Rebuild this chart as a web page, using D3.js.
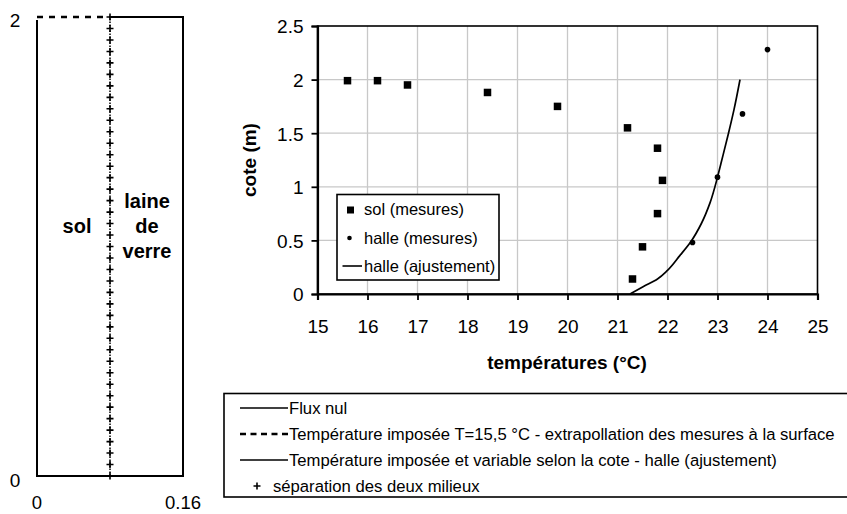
<!DOCTYPE html>
<html><head><meta charset="utf-8">
<script src="https://cdn.jsdelivr.net/npm/d3@7"></script>
<style>body{margin:0;background:#fff}svg{display:block;font-family:Arial,"Liberation Sans",sans-serif}</style>
</head><body><svg id="c" width="847" height="514"></svg>
<script>
// ---- data ----
const solT = [15.6, 16.2, 16.8, 18.4, 19.8, 21.2, 21.8, 21.9, 21.8, 21.5, 21.3];
const solZ = [1.99, 1.99, 1.95, 1.88, 1.75, 1.55, 1.36, 1.06, 0.75, 0.44, 0.14];
const halleT = [24.0, 23.5, 23.0, 22.5];
const halleZ = [2.28, 1.68, 1.09, 0.48];
const fitT = [21.25, 21.52, 21.80, 22.00, 22.25, 22.47, 22.68, 22.85, 23.00, 23.07, 23.22, 23.33, 23.45];
const fitZ = [0, 0.07, 0.14, 0.22, 0.36, 0.49, 0.66, 0.85, 1.09, 1.22, 1.50, 1.72, 2.0];
const xTicks = [15, 16, 17, 18, 19, 20, 21, 22, 23, 24, 25];
const yTicks = [0, 0.5, 1, 1.5, 2, 2.5];
const inLegend = ["sol (mesures)", "halle (mesures)", "halle (ajustement)"];
const bottomLegend = ["Flux nul", "Température imposée T=15,5 °C - extrapollation des mesures à la surface",
  "Température imposée et variable selon la cote - halle (ajustement)", "séparation des deux milieux"];
const domainX = [0, 0.16];
const domainZ = [0, 2];
const separationX = 0.08;
const sepZ = d3.range(0, 41).map(i => i * 0.05);

const svg = d3.select("#c");
const FONT = "Arial, 'Liberation Sans', sans-serif";

// ---- left diagram ----
const lx = d3.scaleLinear().domain(domainX).range([37, 183]);
const lz = d3.scaleLinear().domain(domainZ).range([476, 17]);
const L = svg.append("g");
L.append("path").attr("fill", "none").attr("stroke", "#000").attr("stroke-width", 2)
  .attr("d", d3.line()([[lx(0), lz(2) + 3], [lx(0), lz(0)], [lx(0.16), lz(0)], [lx(0.16), lz(2)], [lx(separationX), lz(2)]]));
L.append("line").attr("x1", lx(0)).attr("x2", lx(separationX)).attr("y1", lz(2)).attr("y2", lz(2))
  .attr("stroke", "#000").attr("stroke-width", 2.5).attr("stroke-dasharray", "6,6");
L.append("line").attr("x1", lx(separationX)).attr("x2", lx(separationX)).attr("y1", lz(0)).attr("y2", lz(2))
  .attr("stroke", "#000").attr("stroke-width", 1.5).attr("stroke-dasharray", "1.5,1.5");
L.selectAll("path.plus").data(sepZ).join("path").attr("class", "plus")
  .attr("d", d => `M${lx(separationX)-3.5},${lz(d)}h7M${lx(separationX)},${lz(d)-3.5}v7`)
  .attr("stroke", "#000").attr("stroke-width", 1.6);
L.append("text").attr("x", 15).attr("y", lz(2) + 10).attr("font-size", 19).attr("text-anchor", "middle").text("2");
L.append("text").attr("x", 15).attr("y", lz(0) + 11).attr("font-size", 19).attr("text-anchor", "middle").text("0");
L.append("text").attr("x", lx(0)).attr("y", 509).attr("font-size", 18.5).attr("text-anchor", "middle").text("0");
L.append("text").attr("x", lx(0.16)).attr("y", 509).attr("font-size", 18.5).attr("text-anchor", "middle").text("0.16");
L.append("text").attr("x", 77).attr("y", 233).attr("font-size", 20).attr("font-weight", "bold").attr("text-anchor", "middle").text("sol");
[["laine", 208], ["de", 233], ["verre", 258]].forEach(([t, y]) =>
  L.append("text").attr("x", 147).attr("y", y).attr("font-size", 20).attr("font-weight", "bold").attr("text-anchor", "middle").text(t));

// ---- chart ----
const x = d3.scaleLinear().domain([15, 25]).range([317.5, 817.5]);
const y = d3.scaleLinear().domain([0, 2.5]).range([294, 26]);
const G = svg.append("g");
G.selectAll("line.gx").data(xTicks.slice(1, -1)).join("line").attr("class", "gx")
  .attr("x1", d => x(d)).attr("x2", d => x(d)).attr("y1", y(0)).attr("y2", y(2.5))
  .attr("stroke", "#c8c8c8").attr("stroke-width", 1.3);
G.selectAll("line.gy").data(yTicks.slice(1, -1)).join("line").attr("class", "gy")
  .attr("x1", x(15)).attr("x2", x(25)).attr("y1", d => y(d)).attr("y2", d => y(d))
  .attr("stroke", "#c8c8c8").attr("stroke-width", 1.3);
G.append("rect").attr("x", x(15)).attr("y", y(2.5)).attr("width", x(25) - x(15)).attr("height", y(0) - y(2.5))
  .attr("fill", "none").attr("stroke", "#000").attr("stroke-width", 1.6);

const xAxis = G.append("g").attr("transform", `translate(0,${y(0)})`)
  .call(d3.axisBottom(x).tickValues(xTicks).tickSize(6).tickPadding(19.5).tickFormat(d3.format("d")));
const yAxis = G.append("g").attr("transform", `translate(${x(15)},0)`)
  .call(d3.axisLeft(y).tickValues(yTicks).tickSize(6).tickPadding(8).tickFormat(d => String(d)));
[xAxis, yAxis].forEach(a => {
  a.attr("font-size", 19).attr("font-family", FONT);
  a.select(".domain").attr("stroke", "#000").attr("stroke-width", 2.2);
  a.selectAll(".tick line").attr("stroke", "#000").attr("stroke-width", 1.8);
  a.selectAll("text").attr("fill", "#000");
});
xAxis.selectAll("text").attr("dy", "0.71em");
yAxis.selectAll("text").attr("dy", "0.36em");

G.append("text").attr("x", 567).attr("y", 369).attr("font-size", 19).attr("font-weight", "bold")
  .attr("text-anchor", "middle").text("températures (°C)");
G.append("text").attr("transform", "translate(256,160) rotate(-90)").attr("font-size", 19).attr("font-weight", "bold")
  .attr("text-anchor", "middle").text("cote (m)");

// fit line
G.append("path").datum(fitT.map((t, i) => [t, fitZ[i]])).attr("fill", "none").attr("stroke", "#000").attr("stroke-width", 1.7)
  .attr("d", d3.line().x(d => x(d[0])).y(d => y(d[1])).curve(d3.curveMonotoneY));
// sol squares
G.selectAll("rect.sol").data(solT.map((t, i) => [t, solZ[i]])).join("rect").attr("class", "sol")
  .attr("x", d => x(d[0]) - 3.75).attr("y", d => y(d[1]) - 3.75).attr("width", 7.5).attr("height", 7.5).attr("fill", "#000");
// halle circles
G.selectAll("circle.halle").data(halleT.map((t, i) => [t, halleZ[i]])).join("circle").attr("class", "halle")
  .attr("cx", d => x(d[0])).attr("cy", d => y(d[1])).attr("r", 2.8).attr("fill", "#000");

// inner legend
const lg = G.append("g");
lg.append("rect").attr("x", 337).attr("y", 194.5).attr("width", 162).attr("height", 85.5)
  .attr("fill", "#fff").attr("stroke", "#000").attr("stroke-width", 1.6);
lg.append("rect").attr("x", 347).attr("y", 206.5).attr("width", 7).attr("height", 7).attr("fill", "#000");
lg.append("circle").attr("cx", 349.5).attr("cy", 238).attr("r", 2.3).attr("fill", "#000");
lg.append("line").attr("x1", 342.5).attr("x2", 362).attr("y1", 266).attr("y2", 266).attr("stroke", "#000").attr("stroke-width", 1.6);
const lyBase = [215, 244, 272];
lg.selectAll("text").data(inLegend).join("text").attr("x", 364).attr("y", (d, i) => lyBase[i])
  .attr("font-size", 16.5).text(d => d);

// bottom legend
const B = svg.append("g");
B.append("rect").attr("x", 224).attr("y", 393.5).attr("width", 640).attr("height", 103.5)
  .attr("fill", "#fff").attr("stroke", "#000").attr("stroke-width", 1.6);
const by = [408, 434, 460, 486];
B.append("line").attr("x1", 240).attr("x2", 288).attr("y1", by[0]).attr("y2", by[0]).attr("stroke", "#000").attr("stroke-width", 1.6);
B.append("line").attr("x1", 240).attr("x2", 288).attr("y1", by[1]).attr("y2", by[1]).attr("stroke", "#000").attr("stroke-width", 2.5).attr("stroke-dasharray", "6,4.5");
B.append("line").attr("x1", 240).attr("x2", 288).attr("y1", by[2]).attr("y2", by[2]).attr("stroke", "#000").attr("stroke-width", 1.6);
B.append("path").attr("d", `M253.5,${by[3]}h7M257,${by[3]-3.5}v7`).attr("stroke", "#000").attr("stroke-width", 1.6);
const bt = B.selectAll("text").data(bottomLegend).join("text").attr("x", (d, i) => i === 3 ? 273 : 289).attr("y", (d, i) => by[i] + 5.5)
  .attr("font-size", 16).text(d => d);
// size the legend font so the longest line spans its width in the picture
const w1 = bt.filter((d, i) => i === 1).node().getComputedTextLength();
const fs = 16 * 546 / w1;
bt.attr("font-size", fs).attr("y", (d, i) => by[i] + fs * 0.35);
</script></body></html>
